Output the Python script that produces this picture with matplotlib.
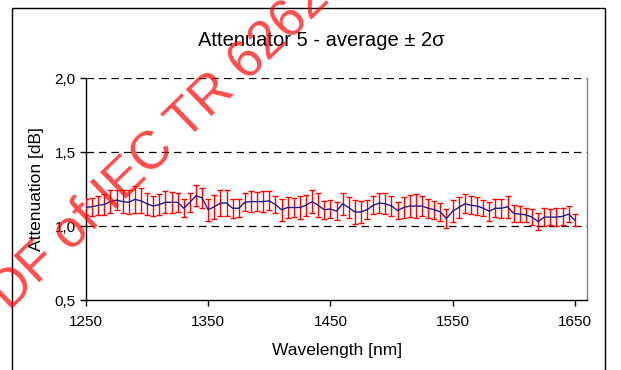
import matplotlib
matplotlib.use('Agg')
import matplotlib.pyplot as plt
import numpy as np
from matplotlib.patches import Rectangle

# wavelength grid [nm] and measured attenuation [dB]
wavelength = np.arange(1250, 1651, 5)

average = [
    1.127, 1.13, 1.14, 1.145, 1.165, 1.175, 1.165, 1.16, 1.18, 1.17,
    1.15, 1.135, 1.145, 1.16, 1.16, 1.16, 1.12, 1.16, 1.205, 1.19,
    1.11, 1.13, 1.155, 1.155, 1.12, 1.12, 1.16, 1.165, 1.165, 1.165,
    1.17, 1.145, 1.11, 1.125, 1.125, 1.125, 1.14, 1.165, 1.14, 1.11,
    1.115, 1.10, 1.15, 1.125, 1.095, 1.095, 1.11, 1.14, 1.155, 1.15,
    1.135, 1.105, 1.125, 1.135, 1.135, 1.135, 1.12, 1.11, 1.095, 1.05,
    1.10, 1.125, 1.15, 1.14, 1.135, 1.12, 1.10, 1.12, 1.12, 1.13,
    1.085, 1.08, 1.075, 1.06, 1.03, 1.06, 1.06, 1.06, 1.065, 1.08,
    1.04,
]

two_sigma = [
    0.055, 0.06, 0.065, 0.07, 0.075, 0.07, 0.075, 0.08, 0.09, 0.085,
    0.075, 0.065, 0.07, 0.075, 0.07, 0.065, 0.06, 0.065, 0.07, 0.065,
    0.075, 0.08, 0.085, 0.085, 0.065, 0.06, 0.06, 0.07, 0.065, 0.07,
    0.065, 0.06, 0.075, 0.07, 0.065, 0.075, 0.07, 0.075, 0.08, 0.06,
    0.06, 0.06, 0.075, 0.07, 0.08, 0.075, 0.065, 0.06, 0.065, 0.07,
    0.065, 0.06, 0.07, 0.075, 0.08, 0.07, 0.065, 0.06, 0.06, 0.065,
    0.075, 0.07, 0.065, 0.06, 0.06, 0.055, 0.065, 0.06, 0.065, 0.075,
    0.06, 0.055, 0.05, 0.055, 0.06, 0.06, 0.055, 0.06, 0.06, 0.055,
    0.04,
]

y_ticks = [0.5, 1.0, 1.5, 2.0]
y_ticklabels = ['0,5', '1,0', '1,5', '2,0']
x_ticks = [1250, 1350, 1450, 1550, 1650]

plt.rcParams['font.family'] = ['Liberation Sans', 'DejaVu Sans']

fig = plt.figure(figsize=(6.21, 3.70), dpi=100)
W, H = 621, 370

# outer chart border
fig.patches.append(Rectangle((12 / W, -0.05), (605 - 12) / W, 1 - 8 / H + 0.05,
                             transform=fig.transFigure, fill=False,
                             edgecolor='black', linewidth=1.0))

ax = fig.add_axes([86 / W, 1 - 300 / H, (587 - 86) / W, (300 - 78) / H])

ax.errorbar(wavelength, average, yerr=two_sigma, fmt='none', ecolor='#ff0000',
            elinewidth=1.0, capsize=2.5, capthick=1.0, zorder=3)
ax.plot(wavelength, average, color='#1a1a8c', linewidth=1.0, zorder=4)

for yv in [1.0, 1.5, 2.0]:
    ax.axhline(yv, color='black', linestyle=(0, (6, 4)), linewidth=0.9, zorder=1)

ax.set_xlim(1250, 1660)
ax.set_ylim(0.5, 2.0)
ax.set_xticks(x_ticks)
ax.set_yticks(y_ticks)
ax.set_yticklabels(y_ticklabels)
ax.tick_params(axis='both', direction='out', length=4, width=1, labelsize=11,
               colors='black')
ax.tick_params(axis='x', pad=7)

for side in ['left', 'bottom']:
    ax.spines[side].set_color('black')
    ax.spines[side].set_linewidth(1.0)
ax.spines['top'].set_visible(False)
ax.spines['right'].set_color('#808080')
ax.spines['right'].set_linewidth(1.0)

fig.text(36 / W, 1 - 189 / H, 'Attenuation [dB]', rotation=90, ha='center',
         va='center', fontsize=12.5)
fig.text(337 / W, 1 - 350 / H, 'Wavelength [nm]', ha='center', va='center',
         fontsize=12.5)
fig.text(321 / W, 1 - 40 / H, 'Attenuator 5 - average \u00b1 2\u03c3',
         ha='center', va='center', fontsize=14.5)

# watermark across the chart
fig.text(-16 / W, 1 - 336 / H, 'PDF of IEC TR 62627-', rotation=44,
         rotation_mode='anchor', ha='left', va='baseline', fontsize=38,
         color='#ff0000', alpha=0.7, zorder=10)

fig.savefig('out.png', dpi=100)
